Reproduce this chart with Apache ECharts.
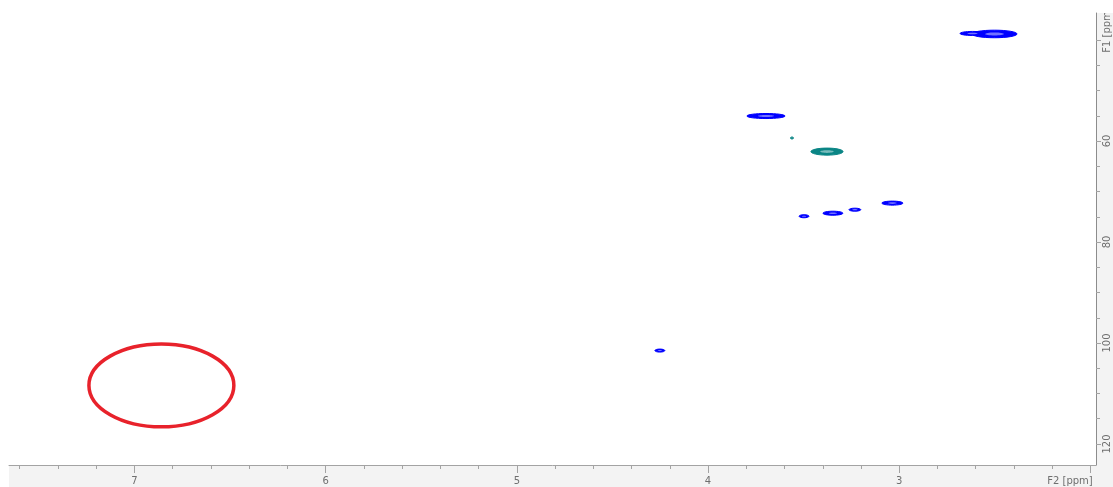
<!DOCTYPE html>
<html>
<head>
<meta charset="utf-8">
<script src="https://cdn.jsdelivr.net/npm/echarts@6/dist/echarts.min.js"></script>
<style>
  html, body { margin: 0; padding: 0; background: #ffffff; }
  #chart { width: 1113px; height: 487px; }
</style>
</head>
<body>
<div id="chart"></div>
<script>
// HSQC cross peaks: 1H shift (F2), 13C shift (F1) and contour half-widths, all in ppm
const peakF2 = [2.502, 2.617, 3.697, 3.561, 3.378, 3.498, 3.347, 3.232, 3.036, 4.252];
const peakF1 = [38.8, 38.7, 55.05, 59.4, 62.1, 74.9, 74.3, 73.6, 72.3, 101.5];
const peakHalfF2 = [0.118, 0.065, 0.100, 0.008, 0.084, 0.026, 0.052, 0.031, 0.055, 0.026];
const peakHalfF1 = [0.75, 0.40, 0.50, 0.20, 0.70, 0.30, 0.40, 0.30, 0.40, 0.30];
// +1 = positive phase (CH/CH3), -1 = negative phase (CH2)
const peakPhase = [1, 1, 1, -1, -1, 1, 1, 1, 1, 1];

// Hand-drawn highlight of the empty aromatic region
const markF2 = [6.859];
const markF1 = [108.4];
const markHalfF2 = [0.379];
const markHalfF1 = [8.2];

// Axis ticks and their labels
const f2MajorTicks = [2, 3, 4, 5, 6, 7];
const f2TickLabels = ['F2 [ppm]', '3', '4', '5', '6', '7'];
const f2MinorTicks = [2.2, 2.4, 2.6, 2.8, 3.2, 3.4, 3.6, 3.8, 4.2, 4.4, 4.6, 4.8,
                      5.2, 5.4, 5.6, 5.8, 6.2, 6.4, 6.6, 6.8, 7.2, 7.4, 7.6];
const f1MajorTicks = [40, 60, 80, 100, 120];
const f1TickLabels = ['F1 [ppm]', '60', '80', '100', '120'];
const f1MinorTicks = [45, 50, 55, 65, 70, 75, 85, 90, 95, 105, 110, 115];

// Visible spectral window
const F2_RANGE = [1.971, 7.656];
const F1_RANGE = [34.65, 124.16];

const POS_COLOR = '#0000ff';
const NEG_COLOR = '#0a8585';
const AXIS_TEXT = '#6f6f6f';
const FONT = 'DejaVu Sans';

const peakData = peakF2.map((x, i) => [x, peakF1[i], peakHalfF2[i], peakHalfF1[i], peakPhase[i]]);
const markData = markF2.map((x, i) => [x, markF1[i], markHalfF2[i], markHalfF1[i]]);

function majorLabel(value, names, labels) {
  const i = names.findIndex(v => Math.abs(v - value) < 1e-6);
  if (i < 0) return '';
  const txt = labels[i];
  return txt.indexOf('[') >= 0 ? '{name|' + txt + '}' : txt;
}

// Contour-like rendering: solid outer level with a lighter core
function renderPeak(params, api) {
  const c = api.coord([api.value(0), api.value(1)]);
  const s = api.size([api.value(2), api.value(3)]);
  const color = api.value(4) > 0 ? POS_COLOR : NEG_COLOR;
  const rx = Math.max(s[0], 1), ry = Math.max(s[1], 1);
  return {
    type: 'group',
    children: [
      { type: 'ellipse', shape: { cx: c[0], cy: c[1], rx: rx, ry: ry },
        style: { fill: color, stroke: color, lineWidth: 1 } },
      { type: 'ellipse', shape: { cx: c[0], cy: c[1], rx: rx * 0.42, ry: ry * 0.38 },
        style: { fill: 'rgba(255,255,255,0.45)' } }
    ]
  };
}

function renderMark(params, api) {
  const c = api.coord([api.value(0), api.value(1)]);
  const s = api.size([api.value(2), api.value(3)]);
  return {
    type: 'ellipse',
    shape: { cx: c[0], cy: c[1], rx: s[0], ry: s[1] },
    style: { fill: 'none', stroke: '#e8222b', lineWidth: 3.5 }
  };
}

const gridBox = { left: 9, top: 13, width: 1087, height: 452, containLabel: false, outerBoundsMode: 'none' };

const chart = echarts.init(document.getElementById('chart'), null, { renderer: 'canvas' });
chart.setOption({
  backgroundColor: '#ffffff',
  animation: false,
  graphic: {
    elements: [
      { type: 'rect', z: -5, shape: { x: 9, y: 465, width: 1104, height: 22 }, style: { fill: '#f3f3f3' } },
      { type: 'rect', z: -5, shape: { x: 1096, y: 13, width: 17, height: 474 }, style: { fill: '#f3f3f3' } },
      { type: 'rect', z: 100, shape: { x: 1097, y: 0, width: 16, height: 13 }, style: { fill: '#ffffff' } }
    ]
  },
  grid: [
    Object.assign({ show: false }, gridBox),
    Object.assign({ show: false }, gridBox)
  ],
  xAxis: [
    {
      type: 'value', gridIndex: 0, inverse: true, position: 'bottom',
      min: F2_RANGE[0], max: F2_RANGE[1],
      axisLine: { show: true, lineStyle: { color: '#a3a3a3', width: 1 } },
      axisTick: { show: true, length: 4, customValues: f2MinorTicks, lineStyle: { color: '#a3a3a3' } },
      axisLabel: { show: false },
      splitLine: { show: false }
    },
    {
      type: 'value', gridIndex: 1, inverse: true, position: 'bottom',
      min: F2_RANGE[0], max: F2_RANGE[1],
      axisLine: { show: false },
      axisTick: { show: true, length: 8, customValues: f2MajorTicks, lineStyle: { color: '#a3a3a3' } },
      axisLabel: {
        show: true, customValues: f2MajorTicks, margin: 11, hideOverlap: false,
        color: AXIS_TEXT, fontSize: 10, fontFamily: FONT,
        formatter: v => majorLabel(v, f2MajorTicks, f2TickLabels),
        rich: { name: { color: AXIS_TEXT, fontSize: 10, fontFamily: FONT, padding: [0, 41, 0, 0] } }
      },
      splitLine: { show: false }
    }
  ],
  yAxis: [
    {
      type: 'value', gridIndex: 0, inverse: true, position: 'right',
      min: F1_RANGE[0], max: F1_RANGE[1],
      axisLine: { show: true, lineStyle: { color: '#8c8c8c', width: 1 } },
      axisTick: { show: true, length: 4, customValues: f1MinorTicks, lineStyle: { color: '#a3a3a3' } },
      axisLabel: { show: false },
      splitLine: { show: false }
    },
    {
      type: 'value', gridIndex: 1, inverse: true, position: 'right',
      min: F1_RANGE[0], max: F1_RANGE[1],
      axisLine: { show: false },
      axisTick: { show: true, length: 5, customValues: f1MajorTicks, lineStyle: { color: '#a3a3a3' } },
      axisLabel: {
        show: true, customValues: f1MajorTicks, margin: 6, rotate: 90, hideOverlap: false,
        color: AXIS_TEXT, fontSize: 10, fontFamily: FONT,
        formatter: v => majorLabel(v, f1MajorTicks, f1TickLabels),
        rich: { name: { color: AXIS_TEXT, fontSize: 10, fontFamily: FONT, padding: [0, 0, 0, 20] } }
      },
      splitLine: { show: false }
    }
  ],
  series: [
    {
      type: 'custom', name: 'HSQC', xAxisIndex: 0, yAxisIndex: 0,
      renderItem: renderPeak, data: peakData, silent: true, clip: true
    },
    {
      type: 'custom', name: 'region', xAxisIndex: 0, yAxisIndex: 0,
      renderItem: renderMark, data: markData, silent: true, z: 5
    }
  ]
});
</script>
</body>
</html>
